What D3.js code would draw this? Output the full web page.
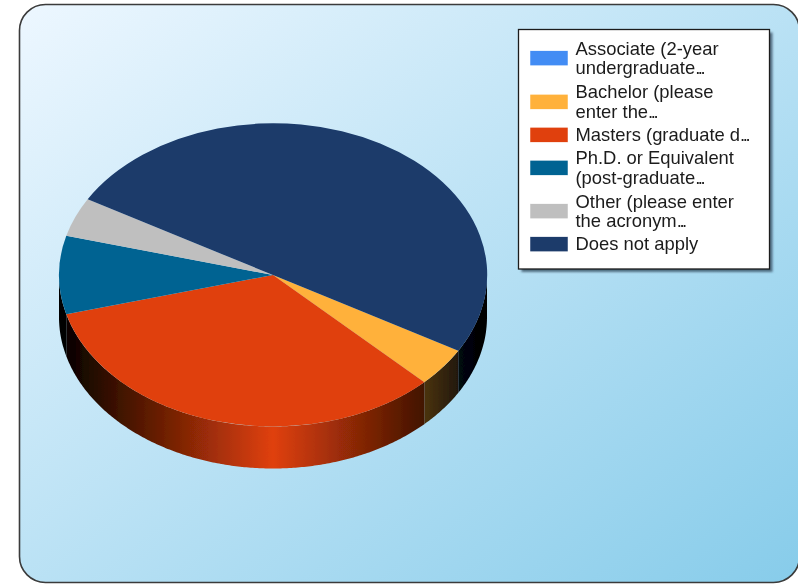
<!DOCTYPE html>
<html>
<head>
<meta charset="utf-8">
<script src="https://cdnjs.cloudflare.com/ajax/libs/d3/7.8.5/d3.min.js"></script>
<style>
html, body { margin: 0; padding: 0; background: #fff; overflow: hidden; }
svg { display: block; }
text { font-family: "Liberation Sans", Arial, sans-serif; font-size: 18.4px; fill: #1a1a1a; }
tspan.dots { letter-spacing: -2.4px; }
</style>
</head>
<body>
<div id="chart"></div>
<script>
// Chart data
var categories = ["Associate", "Bachelor", "Masters", "Ph.D.", "Other", "Does not apply"];
var counts = [0, 1, 8, 2, 1, 12];
var colors = ["#428CF4", "#FFB13B", "#E0400A", "#056492", "#BFBFBF", "#1A3A6B"];
var legendLines = [
    ["Associate (2-year", "undergraduate..."],
    ["Bachelor (please", "enter the..."],
    ["Masters (graduate d..."],
    ["Ph.D. or Equivalent", "(post-graduate..."],
    ["Other (please enter", "the acronym..."],
    ["Does not apply"]
];

// Global constants
var width = 798;
var height = 584;
var cx = 273;
var cy = 275;
var rx = 214;
var ry = 151.5;
var depth = 42;

var svg = d3.select("#chart").append("svg")
    .attr("width", width)
    .attr("height", height);
var defs = svg.append("defs");

// Reference is a slightly soft screenshot
var soft = defs.append("filter")
    .attr("id", "soft")
    .attr("filterUnits", "userSpaceOnUse")
    .attr("x", 0).attr("y", 0)
    .attr("width", width).attr("height", height);
soft.append("feGaussianBlur").attr("stdDeviation", 0.4);

var root = svg.append("g").attr("filter", "url(#soft)");

// Background panel
var bgGrad = defs.append("linearGradient")
    .attr("id", "bgGrad")
    .attr("gradientUnits", "userSpaceOnUse")
    .attr("x1", 130).attr("y1", -78)
    .attr("x2", 686).attr("y2", 666);
bgGrad.append("stop").attr("offset", 0).attr("stop-color", "#EDF7FF");
bgGrad.append("stop").attr("offset", 1).attr("stop-color", "#87CCEA");

var blur = defs.append("filter").attr("id", "shadow");
blur.append("feGaussianBlur").attr("stdDeviation", 1.2);

root.append("rect")
    .attr("x", 19.5).attr("y", 4.5)
    .attr("width", 780).attr("height", 578)
    .attr("rx", 26).attr("ry", 26)
    .style("fill", "url(#bgGrad)")
    .style("stroke", "#3a3a3a")
    .style("stroke-width", 1.6);

// Pie layout, category order running clockwise from the lower right
var pie = d3.pie()
    .sort(null)
    .startAngle(Math.PI * 2 / 3)
    .endAngle(Math.PI * 2 / 3 + Math.PI * 2);
var arcs = pie(counts);

// Side wall gradients: black at the rim ends, full colour in the middle
colors.forEach(function(c, i) {
    var g = defs.append("linearGradient")
        .attr("id", "wall" + i)
        .attr("gradientUnits", "userSpaceOnUse")
        .attr("x1", cx - rx).attr("y1", 0)
        .attr("x2", cx + rx).attr("y2", 0);
    g.append("stop").attr("offset", 0).attr("stop-color", "#000");
    g.append("stop").attr("offset", 0.5).attr("stop-color", c);
    g.append("stop").attr("offset", 1).attr("stop-color", "#000");
});

var xRim = function(a) { return cx + rx * Math.sin(a); };
var yRim = function(a) { return cy - ry * Math.cos(a); };
var rimLine = d3.line();

// Front half of the rim only (90deg to 270deg clockwise from north)
function wallPath(d) {
    var front = [Math.PI / 2, Math.PI * 3 / 2];
    var paths = [];
    [0, -Math.PI * 2].forEach(function(shift) {
        var a0 = Math.max(d.startAngle + shift, front[0]);
        var a1 = Math.min(d.endAngle + shift, front[1]);
        if (a1 <= a0) return;
        var angles = d3.range(a0, a1, 0.01).concat([a1]);
        var top = angles.map(function(a) { return [xRim(a), yRim(a)]; });
        var bottom = angles.slice().reverse().map(function(a) { return [xRim(a), yRim(a) + depth]; });
        paths.push(rimLine(top.concat(bottom)) + "Z");
    });
    return paths.join("");
}

root.append("g").selectAll("path")
    .data(arcs)
    .enter()
    .append("path")
    .attr("d", wallPath)
    .style("fill", function(d, i) { return "url(#wall" + i + ")"; });

// Top face: a circular d3 arc squashed into the ellipse
var arc = d3.arc().innerRadius(0).outerRadius(rx);
root.append("g")
    .attr("transform", "translate(" + [cx, cy] + ") scale(1," + (ry / rx) + ")")
    .selectAll("path")
    .data(arcs)
    .enter()
    .append("path")
    .attr("d", arc)
    .style("fill", function(d, i) { return colors[i]; });

// Legend
var legendX = 518.5;
var legendY = 29.5;
var legendW = 251;
var legendH = 239.5;
var lineHeight = 19.5;
var rowHeight = function(n) { return n == 1 ? 22.5 : 43.5; };

root.append("rect")
    .attr("x", legendX + 3).attr("y", legendY + 3)
    .attr("width", legendW).attr("height", legendH)
    .attr("filter", "url(#shadow)")
    .style("fill", "#30495c")
    .style("opacity", 0.75);
root.append("rect")
    .attr("x", legendX).attr("y", legendY)
    .attr("width", legendW).attr("height", legendH)
    .style("fill", "#fff")
    .style("stroke", "#1a1a1a")
    .style("stroke-width", 1.3);

var rowY = legendY + 7;
var rows = categories.map(function(c, i) {
    var h = rowHeight(legendLines[i].length);
    var row = { name: c, color: colors[i], lines: legendLines[i], mid: rowY + h / 2 };
    rowY += h;
    return row;
});

var rowG = root.append("g").selectAll("g")
    .data(rows)
    .enter()
    .append("g")
    .attr("transform", function(d) { return "translate(0," + d.mid + ")"; });

rowG.append("rect")
    .attr("x", 530).attr("y", -7.5)
    .attr("width", 38).attr("height", 15)
    .style("fill", function(d) { return d.color; })
    .style("stroke", "#fff")
    .style("stroke-width", 0.5);

// Truncation dots sit tighter than the font's own spacing
rowG.selectAll("text")
    .data(function(d) { return d.lines.map(function(t, j) { return { t: t, off: (j - (d.lines.length - 1) / 2) * lineHeight }; }); })
    .enter()
    .append("text")
    .attr("x", 575.5)
    .attr("y", function(d) { return d.off + 6; })
    .each(function(d) {
        var cut = d.t.endsWith("...") ? d.t.length - 3 : d.t.length;
        var label = d3.select(this);
        label.append("tspan").text(d.t.slice(0, cut));
        label.append("tspan").attr("class", "dots").text(d.t.slice(cut));
    });
</script>
</body>
</html>
